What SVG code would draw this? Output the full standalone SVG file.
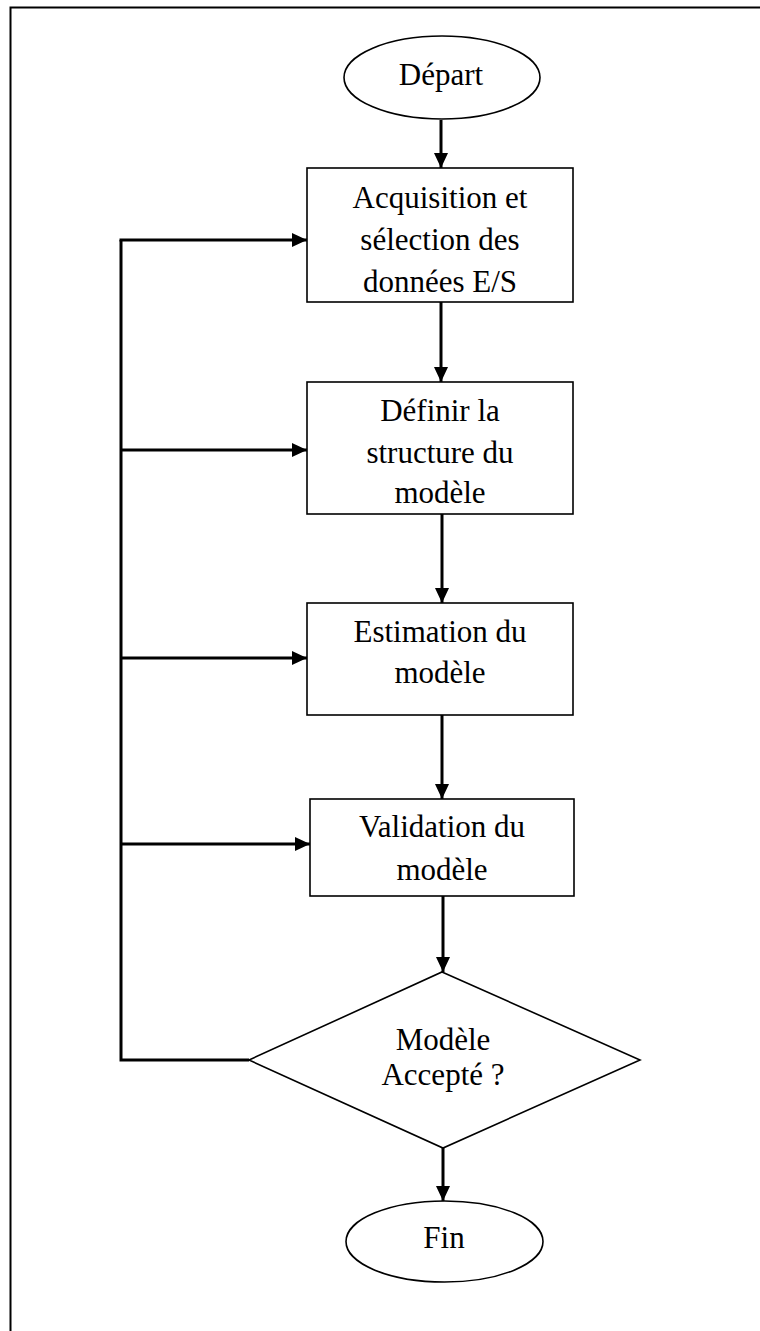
<svg xmlns="http://www.w3.org/2000/svg" width="760" height="1331" viewBox="0 0 760 1331">
<style>
.shape{fill:#fff;stroke:#000;stroke-width:1.6}
.t{font-family:"Liberation Serif","Times New Roman",serif;font-size:31px;fill:#000;text-anchor:middle}
.c{fill:none;stroke:#000;stroke-width:3}
</style>
<defs>
<marker id="ah" viewBox="0 0 15 14" refX="15" refY="7" markerWidth="15" markerHeight="14" markerUnits="userSpaceOnUse" orient="auto">
<path d="M0,0 L15,7 L0,14 Z" fill="#000"/>
</marker>
</defs>
<rect width="760" height="1331" fill="#fff"/>
<path d="M10.5,1340 V7.5 H780" fill="none" stroke="#000" stroke-width="2"/>
<g id="depart">
<ellipse class="shape" cx="442" cy="77.5" rx="98" ry="41.5"/>
<text class="t" x="441" y="85">Départ</text>
</g>
<g id="acquisition">
<rect class="shape" x="307" y="168" width="266" height="134"/>
<text class="t" x="440" y="208">Acquisition et</text>
<text class="t" x="440" y="250">sélection des</text>
<text class="t" x="440" y="292">données E/S</text>
</g>
<g id="structure">
<rect class="shape" x="307" y="382" width="266" height="132"/>
<text class="t" x="440" y="421">Définir la</text>
<text class="t" x="440" y="463">structure du</text>
<text class="t" x="440" y="503">modèle</text>
</g>
<g id="estimation">
<rect class="shape" x="307" y="603" width="266" height="112"/>
<text class="t" x="440" y="642">Estimation du</text>
<text class="t" x="440" y="683">modèle</text>
</g>
<g id="validation">
<rect class="shape" x="310" y="799" width="264" height="97"/>
<text class="t" x="442" y="837">Validation du</text>
<text class="t" x="442" y="880">modèle</text>
</g>
<g id="decision">
<polygon class="shape" points="442,972 640,1060 443,1148 249,1060"/>
<text class="t" x="443" y="1050">Modèle</text>
<text class="t" x="443" y="1085">Accepté ?</text>
</g>
<g id="fin">
<ellipse class="shape" cx="444.5" cy="1241.5" rx="98.5" ry="40.5"/>
<text class="t" x="444" y="1248">Fin</text>
</g>
<g id="connectors">
<line class="c" x1="441" y1="120" x2="441" y2="168" marker-end="url(#ah)"/>
<line class="c" x1="441" y1="302" x2="441" y2="382" marker-end="url(#ah)"/>
<line class="c" x1="442" y1="514" x2="442" y2="603" marker-end="url(#ah)"/>
<line class="c" x1="442" y1="715" x2="442" y2="799" marker-end="url(#ah)"/>
<line class="c" x1="443" y1="896" x2="443" y2="972" marker-end="url(#ah)"/>
<line class="c" x1="443" y1="1148" x2="443" y2="1201" marker-end="url(#ah)"/>
<path class="c" d="M249,1060 H121 V240"/>
<line class="c" x1="119.5" y1="240" x2="307" y2="240" marker-end="url(#ah)"/>
<line class="c" x1="121" y1="450" x2="307" y2="450" marker-end="url(#ah)"/>
<line class="c" x1="121" y1="658" x2="307" y2="658" marker-end="url(#ah)"/>
<line class="c" x1="121" y1="844" x2="310" y2="844" marker-end="url(#ah)"/>
</g>
</svg>
